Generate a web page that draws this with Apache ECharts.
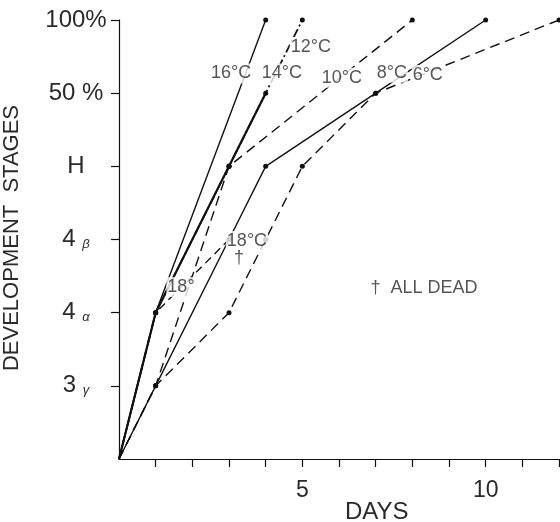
<!DOCTYPE html>
<html>
<head>
<meta charset="utf-8">
<script src="https://cdn.jsdelivr.net/npm/echarts@6/dist/echarts.min.js"></script>
<style>
html,body{margin:0;padding:0;background:#fff;}
#chart{width:560px;height:522px;}
</style>
</head>
<body>
<div id="chart"></div>
<script>
// ---- data ----
var stageMain = ['', '3', '4', '4', 'H', '50 %', '100%'];
var stageSub  = ['', 'γ', 'α', 'β', '', '', ''];
var dayLabels = [5, 10];

var t16x = [0, 1, 4],             t16y = [0, 2, 6];
var t14x = [0, 1, 3, 4],          t14y = [0, 2, 4, 5];
var t12x = [0, 1, 3, 5],          t12y = [0, 2, 4, 6];
var t10x = [0, 1, 3, 8],          t10y = [0, 1, 4, 6];
var t8x  = [0, 1, 3, 4, 7, 10],   t8y  = [0, 1, 3, 4, 5, 6];
var t6x  = [0, 1, 3, 4, 5, 7, 12],t6y  = [0, 1, 2, 3, 4, 5, 6];
var t18x = [0, 1, 3],             t18y = [0, 2, 3];

var noteText = ['16°C', '14°C', '12°C', '10°C', '8°C', '6°C', '18°C', '†', '18°', '†  ALL DEAD'];
var noteX    = [3.06, 4.44, 5.23, 6.08, 7.44, 8.42, 3.49, 3.27, 1.69, 8.32];
var noteY    = [5.27, 5.27, 5.63, 5.21, 5.28, 5.25, 2.98, 2.75, 2.35, 2.34];

// ---- build ----
function pts(xs, ys) { return xs.map(function (x, i) { return [x, ys[i]]; }); }
var FONT = '"Liberation Sans", Arial, sans-serif';
var INK = '#111';
var TXT = '#2a2a2a';

function line(name, xs, ys, type, width) {
  return {
    name: name, type: 'line', data: pts(xs, ys),
    symbol: 'circle',
    symbolSize: function (v, p) { return p.dataIndex === 0 ? 0 : 5; },
    itemStyle: { color: INK },
    lineStyle: { color: INK, width: width, type: type },
    silent: true, z: 2
  };
}

var notes = noteText.map(function (t, i) {
  return { value: [noteX[i], noteY[i]], name: t };
});

var chart = echarts.init(document.getElementById('chart'), null, { renderer: 'canvas' });
chart.setOption({
  animation: false,
  backgroundColor: '#fff',
  grid: { left: 119, top: 20, width: 440, height: 439, containLabel: false, outerBoundsMode: 'none' },
  xAxis: {
    type: 'value', min: 0, max: 12, interval: 1,
    splitLine: { show: false },
    axisLine: { lineStyle: { color: INK, width: 1.2 } },
    axisTick: { show: true, length: 8, inside: false, customValues: [1,2,3,4,5,6,7,8,9,10,11,12], lineStyle: { color: INK, width: 1.2 } },
    axisLabel: { customValues: dayLabels, margin: 20, fontSize: 23, color: TXT, fontFamily: FONT }
  },
  yAxis: {
    type: 'value', min: 0, max: 6, interval: 1,
    splitLine: { show: false },
    axisLine: { lineStyle: { color: INK, width: 1.2 } },
    axisTick: { show: true, length: 8, customValues: [1,2,3,4,5,6], lineStyle: { color: INK, width: 1.2 } },
    axisLabel: {
      customValues: [1,2,3,4,5,6],
      margin: 43, align: 'center',
      fontSize: 24, color: TXT, fontFamily: FONT,
      formatter: function (v) {
        var i = Math.round(v);
        return stageSub[i] ? stageMain[i] + ' {g|' + stageSub[i] + '}' : stageMain[i];
      },
      rich: { g: { fontSize: 13, fontStyle: 'italic', color: TXT, fontFamily: FONT, padding: [10, 0, 0, 0] } }
    }
  },
  series: [
    line('16', t16x, t16y, 'solid', 1.4),
    line('14', t14x, t14y, 'solid', 2.2),
    line('12', t12x, t12y, [9, 3, 2, 3], 1.8),
    line('10', t10x, t10y, [10, 6], 1.4),
    line('8',  t8x,  t8y,  'solid', 1.4),
    line('6',  t6x,  t6y,  [10, 6], 1.4),
    line('18', t18x, t18y, [8, 5], 1.4),
    {
      type: 'scatter', data: notes, symbolSize: 0, silent: true, z: 5,
      label: {
        show: true, position: 'inside',
        formatter: function (p) { return p.name; },
        fontSize: 18, color: TXT, fontFamily: FONT,
        backgroundColor: '#fff', padding: [1, 1]
      }
    }
  ],
  graphic: [
    { type: 'text', left: 345, top: 500, style: { text: 'DAYS', font: '24px ' + FONT, fill: TXT } },
    { type: 'text', x: 12, y: 238, rotation: Math.PI / 2,
      style: { text: 'DEVELOPMENT  STAGES', font: '22px ' + FONT, fill: TXT, align: 'center', verticalAlign: 'middle' } }
  ]
});
</script>
</body>
</html>
